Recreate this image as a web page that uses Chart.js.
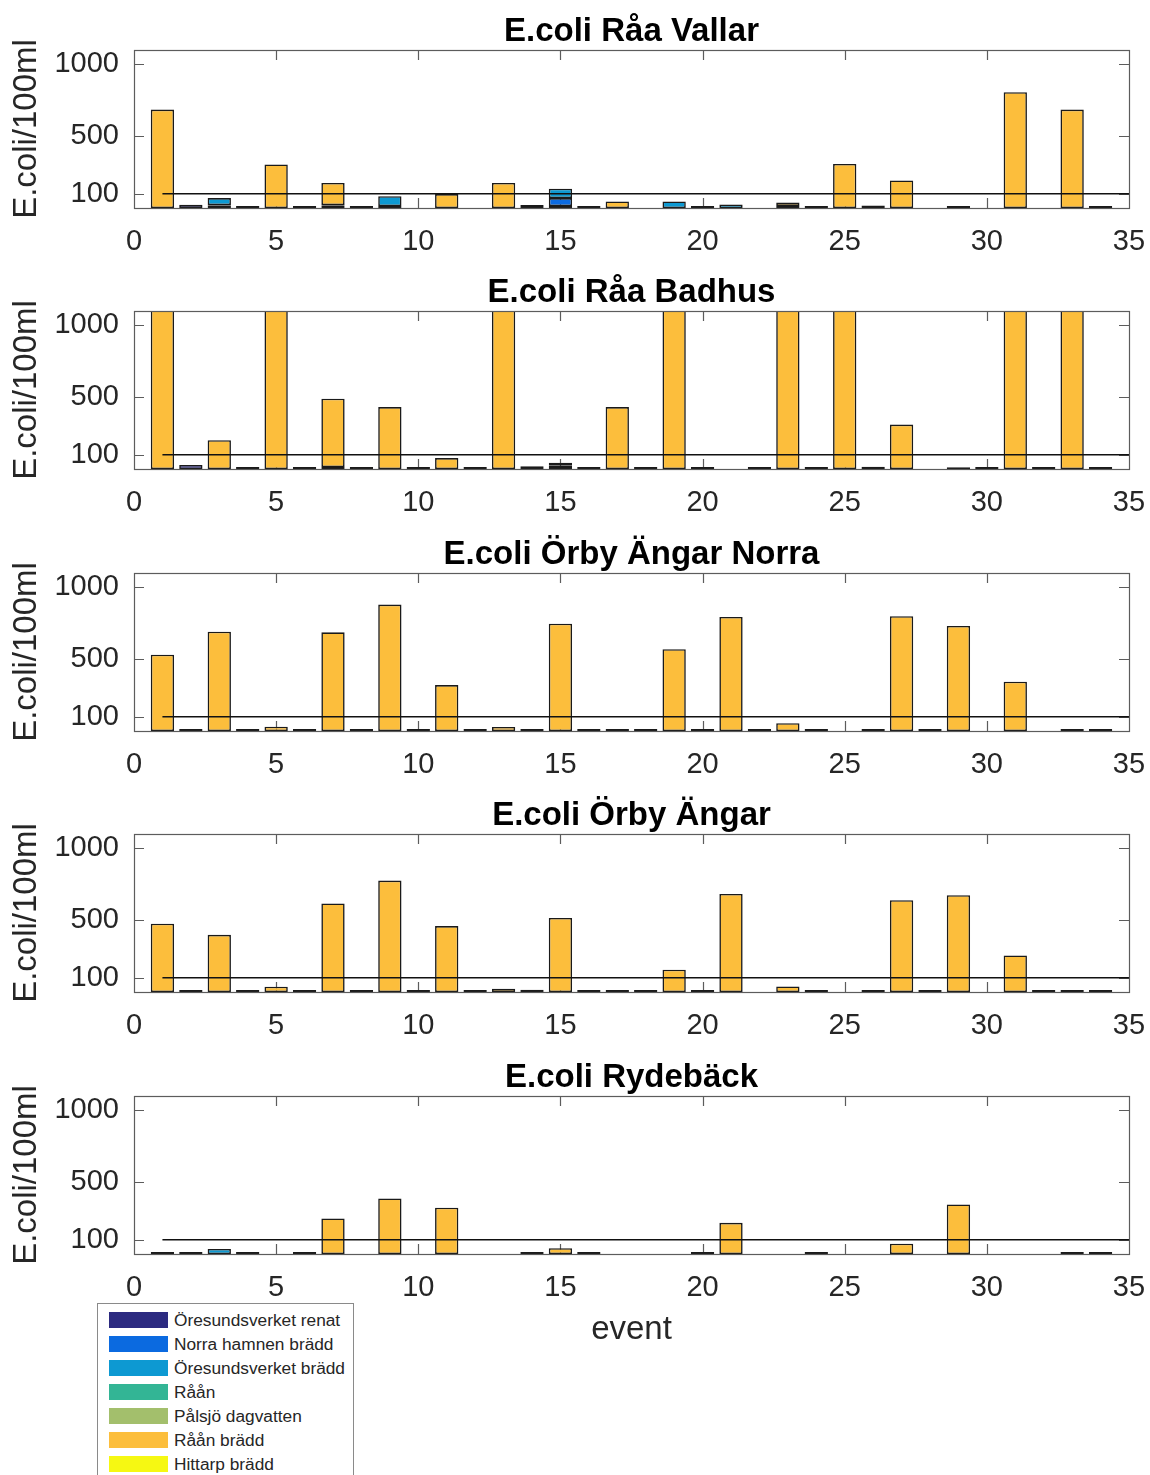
<!DOCTYPE html>
<html>
<head>
<meta charset="utf-8">
<title>E.coli</title>
<script src="https://cdn.jsdelivr.net/npm/chart.js@4.4.1/dist/chart.umd.min.js"></script>
<style>
  body { margin: 0; background: #fff; }
  #page { position: relative; width: 1150px; height: 1475px; overflow: hidden; font-family: 'Liberation Sans', Arial, sans-serif; }
  #page canvas { position: absolute; left: 0; }
  #legend { position: absolute; left: 97px; top: 1303px; width: 255px; height: 190px; border: 1px solid #8a8a8a; background: #fff; z-index: 2; }
  .leg-row { position: absolute; left: 11px; height: 16px; display: flex; align-items: center; }
  .leg-swatch { width: 59px; height: 16px; margin-right: 6px; }
  .leg-text { font-size: 17.3px; line-height: 16px; color: #262626; white-space: nowrap; }
</style>
</head>
<body>
<div id="page">
  <div id="legend"></div>
</div>
<script>
const events = [1, 2, 3, 4, 5, 6, 7, 8, 9, 10, 11, 12, 13, 14, 15, 16, 17,
                18, 19, 20, 21, 22, 23, 24, 25, 26, 27, 28, 29, 30, 31, 32, 33, 34];
const seriesNames = ['Öresundsverket renat', 'Norra hamnen brädd', 'Öresundsverket brädd',
                     'Råån', 'Pålsjö dagvatten', 'Råån brädd', 'Hittarp brädd'];
const seriesColors = ['#2c2a80', '#0b6ae0', '#0d99d2', '#33b595', '#a3bf6c', '#fcbe3c', '#f6f812'];
const stationTitles = ['E.coli Råa Vallar', 'E.coli Råa Badhus', 'E.coli Örby Ängar Norra',
                       'E.coli Örby Ängar', 'E.coli Rydebäck'];
const yTickValues = [100, 500, 1000];
const limitLine = [{ x: 1, y: 100 }, { x: 35, y: 100 }];

// Råa Vallar
const vallarRenat = [null, 23, 20, 0, null, 0, null, 0, 8, null,
                     null, null, null, 21, 5, 0, null, null, null, 0,
                     null, null, 8, 0, null, 18, null, null, 5, null,
                     null, null, null, 0];
const vallarNorra = [null, null, null, null, null, null, null, null, null, null,
                     null, null, null, null, 55, null, null, null, null, null,
                     null, null, null, null, null, null, null, null, null, null,
                     null, null, null, null];
const vallarOvBradd = [null, null, 49, null, null, null, 20, null, 68, null,
                       null, null, null, null, 65, null, null, null, 46, null,
                       25, null, null, null, null, null, null, null, null, null,
                       null, null, null, null];
const vallarRaanBradd = [685, null, null, null, 303, null, 154, null, null, null,
                         97, null, 174, null, null, null, 46, null, null, null,
                         null, null, 24, null, 307, null, 192, null, null, null,
                         806, null, 685, null];

// Råa Badhus (bars above 1100 run past the top of the axis)
const badhusRenat = [null, 28, null, 0, null, 0, 5, 0, null, 0,
                     null, 0, null, null, null, 0, null, 0, null, 0,
                     null, 0, null, 0, null, 16, null, null, null, 0,
                     null, 0, null, 0];
const badhusNorra = [null, null, null, null, null, null, null, null, null, null,
                     null, null, null, null, 22, null, null, null, null, null,
                     null, null, null, null, null, null, null, null, null, null,
                     null, null, null, null];
const badhusOvBradd = [null, null, null, null, null, null, null, null, null, null,
                       null, null, null, 20, 22, null, null, null, null, null,
                       null, null, null, null, null, null, null, null, null, null,
                       null, null, null, null];
const badhusRaanBradd = [1500, null, 200, null, 1500, null, 475, null, 431, null,
                         76, null, 1500, null, null, null, 431, null, 1500, null,
                         null, null, 1500, null, 1500, null, 309, null, 12, null,
                         1500, null, 1500, null];

// Örby Ängar Norra
const norraRenat = [null, 12, null, 0, null, 0, null, 0, null, 0,
                    null, 0, null, 12, null, 0, 0, 0, null, 0,
                    null, 0, null, 0, null, 0, null, 0, null, null,
                    null, null, 8, 0];
const norraRaanBradd = [531, null, 691, null, 30, null, 687, null, 880, null,
                        320, null, 28, null, 747, null, null, null, 569, null,
                        794, null, 54, null, null, null, 799, null, 731, null,
                        343, null, null, null];

// Örby Ängar
const orbyRenat = [null, 10, null, 0, null, 8, null, 0, null, 0,
                   null, 0, null, 15, null, 0, 0, 0, null, 0,
                   null, null, null, 0, null, 0, null, 0, null, null,
                   null, 0, 8, 0];
const orbyRaanBradd = [475, null, 398, null, 37, null, 616, null, 776, null,
                       459, null, 23, null, 516, null, null, null, 155, null,
                       683, null, 39, null, null, null, 639, null, 674, null,
                       254, null, null, null];

// Rydebäck
const rydeRenat = [0, 0, null, 0, null, 0, null, null, null, null,
                   null, null, null, 10, null, 0, null, null, null, 0,
                   null, null, null, 0, null, null, null, null, null, null,
                   null, null, 0, 0];
const rydeOvBradd = [null, null, 35, null, null, null, null, null, null, null,
                     null, null, null, null, null, null, null, null, null, null,
                     null, null, null, null, null, null, null, null, null, null,
                     null, null, null, null];
const rydeRaanBradd = [null, null, null, null, null, null, 248, null, 387, null,
                       322, null, null, null, 40, null, null, null, null, null,
                       217, null, null, null, null, null, 72, null, 345, null,
                       null, null, null, null];

const none = [];
// series order follows seriesNames
const stationSeries = [
    [vallarRenat, vallarNorra, vallarOvBradd, none, none, vallarRaanBradd, none],
    [badhusRenat, badhusNorra, badhusOvBradd, none, none, badhusRaanBradd, none],
    [norraRenat, none, none, none, none, norraRaanBradd, none],
    [orbyRenat, none, none, none, none, orbyRaanBradd, none],
    [rydeRenat, none, rydeOvBradd, none, none, rydeRaanBradd, none]
];

const panelTops = [0, 261, 523, 784, 1046];
const FONT = "'Liberation Sans', Arial, sans-serif";
Chart.defaults.font.family = FONT;

// MATLAB style box with inward tick marks, title centred over the axes
const axesBox = {
    id: 'axesBox',
    beforeDatasetsDraw(chart) {
        const { ctx, chartArea: a, scales: { x, y } } = chart;
        ctx.save();
        ctx.strokeStyle = '#5c5c5c';
        ctx.lineWidth = 1.2;
        ctx.beginPath();
        x.ticks.forEach(t => {
            if (t.value <= 0 || t.value >= 35) return;
            const px = Math.round(x.getPixelForValue(t.value)) + 0.5;
            ctx.moveTo(px, a.top); ctx.lineTo(px, a.top + 10);
            ctx.moveTo(px, a.bottom); ctx.lineTo(px, a.bottom - 10);
        });
        y.ticks.forEach(t => {
            const py = Math.round(y.getPixelForValue(t.value)) + 0.5;
            ctx.moveTo(a.left, py); ctx.lineTo(a.left + 10, py);
            ctx.moveTo(a.right, py); ctx.lineTo(a.right - 10, py);
        });
        ctx.stroke();
        ctx.restore();
    },
    afterDraw(chart, args, opts) {
        const { ctx, chartArea: a } = chart;
        ctx.save();
        ctx.strokeStyle = '#5c5c5c';
        ctx.lineWidth = 1.2;
        ctx.strokeRect(Math.round(a.left) + 0.5, Math.round(a.top) + 0.5,
            Math.round(a.right - a.left), Math.round(a.bottom - a.top));
        ctx.fillStyle = '#000';
        ctx.font = 'bold 33px ' + FONT;
        ctx.textAlign = 'center';
        ctx.textBaseline = 'alphabetic';
        ctx.fillText(opts.text, (a.left + a.right) / 2, a.top - 9);
        ctx.restore();
    }
};

const page = document.getElementById('page');

stationTitles.forEach((title, k) => {
    const last = k === stationTitles.length - 1;
    const canvas = document.createElement('canvas');
    canvas.width = 1150;
    canvas.height = last ? 330 : 261;
    canvas.style.top = panelTops[k] + 'px';
    page.appendChild(canvas);

    const datasets = stationSeries[k].map((values, i) => ({
        type: 'bar',
        label: seriesNames[i],
        data: values,
        backgroundColor: seriesColors[i],
        borderColor: '#1a1a1a',
        borderWidth: 1.6,
        borderSkipped: false,
        minBarLength: i === 0 ? 2 : 0,
        barPercentage: 0.82,
        categoryPercentage: 1,
        clip: 0,
        order: 1
    }));
    datasets.push({
        type: 'line',
        label: 'limit',
        data: limitLine,
        borderColor: '#111',
        borderWidth: 1.5,
        pointRadius: 0,
        clip: 0,
        stack: 'limit',
        order: 0
    });

    new Chart(canvas, {
        type: 'bar',
        data: { labels: events, datasets: datasets },
        options: {
            responsive: false,
            animation: false,
            events: [],
            layout: { padding: { left: 0, right: 21, top: 50, bottom: 0 } },
            plugins: {
                legend: { display: false },
                tooltip: { enabled: false },
                title: { display: false },
                axesBox: { text: title }
            },
            scales: {
                x: {
                    type: 'linear',
                    min: 0,
                    max: 35,
                    offset: false,
                    stacked: true,
                    grid: { display: false },
                    border: { display: false },
                    ticks: { stepSize: 5, color: '#262626', font: { size: 29 }, padding: 9, maxRotation: 0 },
                    title: {
                        display: last,
                        text: 'event',
                        color: '#262626',
                        font: { size: 33 },
                        padding: { top: 0, bottom: 26 }
                    },
                    afterFit: (scale) => {
                        scale.height = canvas.height - 208;
                        scale.paddingLeft = 0;
                        scale.paddingRight = 0;
                    }
                },
                y: {
                    min: 0,
                    max: 1100,
                    stacked: true,
                    grid: { display: false },
                    border: { display: false },
                    ticks: { color: '#262626', font: { size: 29 }, padding: 7, callback: (v) => String(v) },
                    afterBuildTicks: (scale) => { scale.ticks = yTickValues.map(v => ({ value: v })); },
                    title: {
                        display: true,
                        text: 'E.coli/100ml',
                        color: '#262626',
                        font: { size: 33 },
                        padding: { top: 7, bottom: 0 }
                    },
                    afterFit: (scale) => { scale.width = 134; }
                }
            }
        },
        plugins: [axesBox]
    });
});

// legend box (cut off at the bottom edge like the original)
const legend = document.getElementById('legend');
seriesNames.forEach((name, i) => {
    const row = document.createElement('div');
    row.className = 'leg-row';
    row.style.top = (8 + i * 24) + 'px';
    row.innerHTML = `<div class="leg-swatch" style="background:${seriesColors[i]}"></div><span class="leg-text">${name}</span>`;
    legend.appendChild(row);
});
</script>
</body>
</html>
